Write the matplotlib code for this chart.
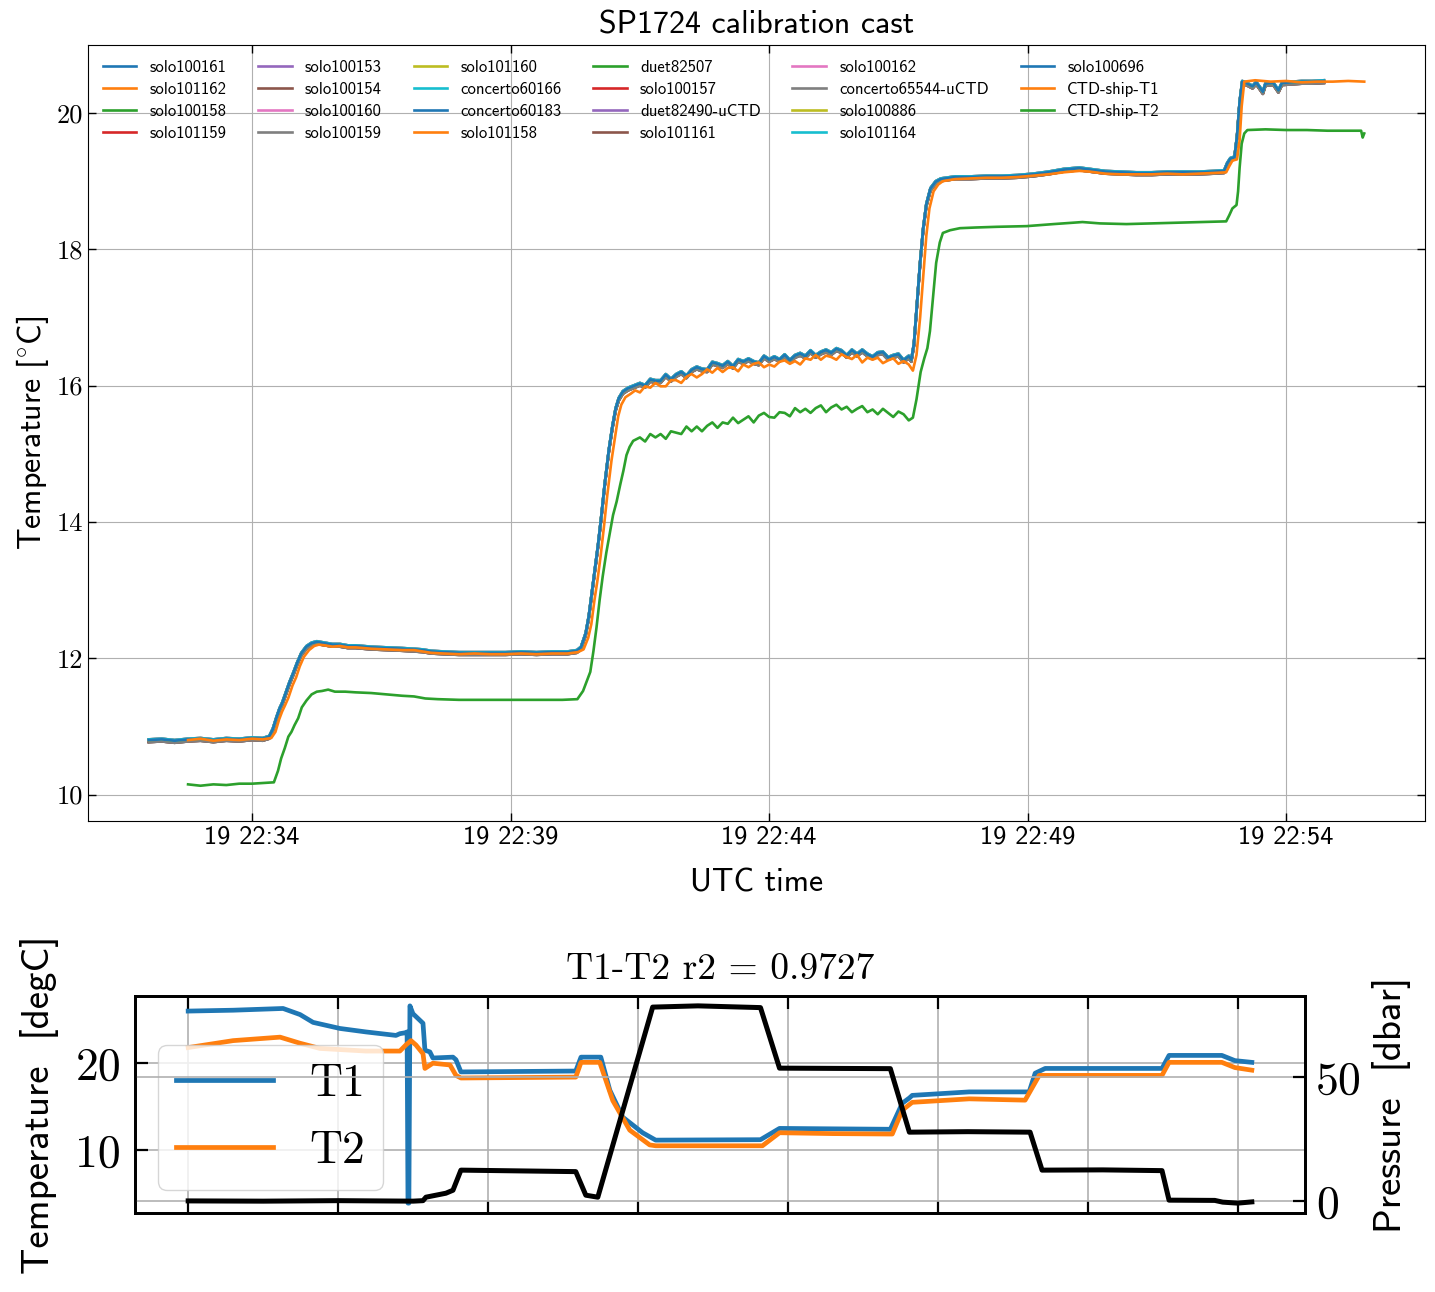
import matplotlib
matplotlib.use("Agg")
import matplotlib.pyplot as plt
import matplotlib.dates as mdates
from matplotlib.ticker import MultipleLocator
import numpy as np
import pandas as pd

plt.rcParams["mathtext.fontset"] = "cm"

SANS = "cmss10"
SERIF = "cmr10"

# ---------------- calibration cast: time in minutes after 22:30 UTC ----------------
cast_start = "2017-06-19 22:30:00"

# shared profile seen by the solo / concerto / duet loggers
solo_t = [2.00, 2.25, 2.50, 2.76, 3.00, 3.25, 3.50, 3.75, 4.00, 4.20, 4.33, 4.40, 4.47, 4.53,
          4.58, 4.65, 4.72, 4.80, 4.87, 4.95, 5.05, 5.15, 5.25, 5.40, 5.55, 5.70, 5.85, 6.00,
          6.30, 6.60, 6.90, 7.13, 7.30, 7.46, 7.70, 8.00, 8.30, 8.60, 8.90, 9.20, 9.50, 9.80,
          10.10, 10.28, 10.36, 10.45, 10.51, 10.57, 10.63, 10.69, 10.75, 10.82, 10.90, 10.97,
          11.03, 11.09, 11.17, 11.27, 11.40,
          11.5, 11.6, 11.7, 11.8, 11.9, 12.0, 12.1, 12.2, 12.3, 12.4, 12.5, 12.6, 12.7, 12.8,
          12.9, 13.0, 13.1, 13.2, 13.3, 13.4, 13.5, 13.6, 13.7, 13.8, 13.9, 14.0, 14.1, 14.2,
          14.3, 14.4, 14.5, 14.6, 14.7, 14.8, 14.9, 15.0, 15.1, 15.2, 15.3, 15.4, 15.5, 15.6,
          15.7, 15.8, 15.9, 16.0, 16.1, 16.2, 16.3, 16.4, 16.5, 16.6, 16.7, 16.75,
          16.80, 16.86, 16.92, 16.98, 17.04, 17.12, 17.22, 17.32, 17.6, 17.9, 18.2, 18.5, 18.8,
          19.1, 19.4, 19.7, 20.0, 20.2, 20.5, 20.8, 21.1, 21.4, 21.7, 22.0, 22.3, 22.6, 22.80,
          22.86, 22.92, 23.00, 23.05, 23.10, 23.15, 23.25, 23.35, 23.42, 23.55, 23.60, 23.75,
          23.85, 23.92, 24.1, 24.3, 24.5, 24.73]
solo_temp = [10.79, 10.80, 10.78, 10.80, 10.81, 10.79, 10.81, 10.80, 10.82, 10.81, 10.84, 10.95,
             11.12, 11.25, 11.33, 11.48, 11.63, 11.78, 11.92, 12.06, 12.16, 12.21, 12.23, 12.21,
             12.19, 12.19, 12.17, 12.17, 12.15, 12.14, 12.13, 12.12, 12.11, 12.09, 12.08, 12.07,
             12.07, 12.07, 12.07, 12.08, 12.07, 12.08, 12.08, 12.10, 12.15, 12.35, 12.60, 12.95,
             13.30, 13.65, 14.05, 14.55, 15.05, 15.40, 15.65, 15.80, 15.90, 15.95, 15.99,
             16.02, 15.99, 16.08, 16.06, 16.06, 16.15, 16.08, 16.15, 16.19, 16.13, 16.22, 16.26,
             16.23, 16.22, 16.33, 16.31, 16.28, 16.34, 16.27, 16.37, 16.34, 16.38, 16.34, 16.32,
             16.42, 16.37, 16.41, 16.37, 16.44, 16.36, 16.43, 16.46, 16.42, 16.50, 16.43, 16.48,
             16.51, 16.47, 16.53, 16.50, 16.43, 16.51, 16.45, 16.51, 16.45, 16.41, 16.47, 16.48,
             16.40, 16.43, 16.45, 16.36, 16.42, 16.37,
             16.60, 17.20, 17.80, 18.30, 18.65, 18.88, 18.98, 19.02, 19.05, 19.05, 19.06, 19.06,
             19.07, 19.09, 19.12, 19.16, 19.18, 19.16, 19.13, 19.12, 19.11, 19.11, 19.12, 19.12,
             19.12, 19.13, 19.14, 19.25, 19.32, 19.34, 19.65, 20.15, 20.45, 20.42, 20.38, 20.44,
             20.30, 20.42, 20.43, 20.32, 20.43, 20.44, 20.45, 20.45, 20.46]

# logger names and their bias against the shared profile (degC)
logger_names = ["solo100161", "solo101162", "solo100158", "solo101159", "solo100153",
                "solo100154", "solo100160", "solo100159", "solo101160", "concerto60166",
                "concerto60183", "solo101158", "duet82507", "solo100157", "duet82490-uCTD",
                "solo101161", "solo100162", "concerto65544-uCTD", "solo100886", "solo101164",
                "solo100696"]
logger_bias = [0.00, -0.01, 0.01, -0.01, 0.02, -0.02, 0.01, -0.02, 0.02, 0.01,
               0.00, -0.01, 0.01, -0.01, 0.02, -0.02, 0.01, -0.02, 0.01, 0.02, 0.01]

# ship CTD primary sensor
ctd_t1_t = [2.76, 3.0, 3.25, 3.5, 3.75, 4.0, 4.2, 4.37, 4.45, 4.52, 4.58, 4.63, 4.70, 4.78,
            4.85, 4.92, 5.00, 5.10, 5.20, 5.29, 5.40, 5.55, 5.70, 5.85, 6.0, 6.3, 6.6, 6.9,
            7.13, 7.3, 7.46, 7.7, 8.0, 8.3, 8.6, 8.9, 9.2, 9.5, 9.8, 10.1, 10.3, 10.41, 10.50,
            10.56, 10.62, 10.68, 10.74, 10.80, 10.87, 10.95, 11.02, 11.08, 11.14, 11.22, 11.32,
            11.41,
            11.5, 11.6, 11.7, 11.8, 11.9, 12.0, 12.1, 12.2, 12.3, 12.4, 12.5, 12.6, 12.7, 12.8,
            12.9, 13.0, 13.1, 13.2, 13.3, 13.4, 13.5, 13.6, 13.7, 13.8, 13.9, 14.0, 14.1, 14.2,
            14.3, 14.4, 14.5, 14.6, 14.7, 14.8, 14.9, 15.0, 15.1, 15.2, 15.3, 15.4, 15.5, 15.6,
            15.7, 15.8, 15.9, 16.0, 16.1, 16.2, 16.3, 16.4, 16.5, 16.6, 16.7, 16.78,
            16.85, 16.92, 16.98, 17.04, 17.10, 17.18, 17.27, 17.36, 17.6, 17.9, 18.2, 18.5, 18.8,
            19.1, 19.4, 19.7, 20.0, 20.2, 20.5, 20.8, 21.1, 21.4, 21.7, 22.0, 22.3, 22.6, 22.84,
            22.90, 22.96, 23.05, 23.10, 23.14, 23.19, 23.4, 23.7, 24.0, 24.3, 24.6, 24.9, 25.2,
            25.51]
ctd_t1 = [10.80, 10.82, 10.79, 10.81, 10.80, 10.82, 10.81, 10.83, 10.92, 11.10, 11.22, 11.30,
          11.42, 11.60, 11.72, 11.88, 12.02, 12.12, 12.18, 12.20, 12.19, 12.17, 12.18, 12.16,
          12.16, 12.14, 12.13, 12.12, 12.12, 12.10, 12.08, 12.07, 12.06, 12.07, 12.06, 12.06,
          12.07, 12.06, 12.07, 12.07, 12.09, 12.13, 12.30, 12.50, 12.85, 13.15, 13.50, 13.90,
          14.40, 14.90, 15.25, 15.55, 15.72, 15.83, 15.88, 15.93,
          15.90, 15.99, 15.97, 16.04, 15.99, 15.99, 16.08, 16.08, 16.04, 16.13, 16.17, 16.12,
          16.17, 16.24, 16.19, 16.26, 16.20, 16.26, 16.27, 16.21, 16.31, 16.27, 16.32, 16.34,
          16.27, 16.31, 16.28, 16.35, 16.37, 16.32, 16.36, 16.31, 16.40, 16.38, 16.45, 16.38,
          16.44, 16.42, 16.38, 16.46, 16.42, 16.39, 16.45, 16.34, 16.41, 16.38, 16.41, 16.33,
          16.37, 16.40, 16.32, 16.36, 16.31, 16.22,
          16.45, 17.00, 17.60, 18.20, 18.60, 18.85, 18.95, 19.00, 19.03, 19.04, 19.05, 19.05,
          19.06, 19.08, 19.10, 19.13, 19.15, 19.14, 19.11, 19.10, 19.10, 19.10, 19.11, 19.10,
          19.11, 19.12, 19.13, 19.22, 19.30, 19.32, 19.60, 20.10, 20.46, 20.48, 20.46, 20.47,
          20.45, 20.46, 20.46, 20.47, 20.46]

# ship CTD secondary sensor
ctd_t2_t = [2.76, 3.00, 3.25, 3.50, 3.75, 4.00, 4.20, 4.42, 4.50, 4.56, 4.63, 4.70, 4.76, 4.82,
            4.89, 4.96, 5.05, 5.15, 5.25, 5.35, 5.47, 5.60, 5.80, 6.00, 6.30, 6.60, 6.90, 7.13,
            7.35, 7.59, 8.00, 8.40, 8.80, 9.20, 9.60, 10.00, 10.29, 10.40, 10.47, 10.54, 10.60,
            10.66, 10.72, 10.78, 10.85, 10.92, 10.98, 11.05, 11.12, 11.18, 11.24, 11.30, 11.37,
            11.5, 11.6, 11.7, 11.8, 11.9, 12.0, 12.1, 12.2, 12.3, 12.4, 12.5, 12.6, 12.7, 12.8,
            12.9, 13.0, 13.1, 13.2, 13.3, 13.4, 13.5, 13.6, 13.7, 13.8, 13.9, 14.0, 14.1, 14.2,
            14.3, 14.4, 14.5, 14.6, 14.7, 14.8, 14.9, 15.0, 15.1, 15.2, 15.3, 15.4, 15.5, 15.6,
            15.7, 15.8, 15.9, 16.0, 16.1, 16.2, 16.3, 16.4, 16.5, 16.6, 16.7, 16.78,
            16.85, 16.93, 17.00, 17.06, 17.11, 17.17, 17.23, 17.30, 17.36, 17.50, 17.69, 18.0,
            18.4, 18.98, 19.5, 20.06, 20.4, 20.91, 21.4, 21.9, 22.4, 22.84, 22.90, 22.96, 23.04,
            23.07, 23.10, 23.14, 23.19, 23.25, 23.6, 24.0, 24.4, 24.8, 25.2, 25.45, 25.48, 25.51]
ctd_t2 = [10.15, 10.13, 10.15, 10.14, 10.16, 10.16, 10.17, 10.18, 10.35, 10.53, 10.68, 10.85,
          10.92, 11.02, 11.12, 11.28, 11.38, 11.47, 11.51, 11.52, 11.54, 11.51, 11.51, 11.50,
          11.49, 11.47, 11.45, 11.44, 11.41, 11.40, 11.39, 11.39, 11.39, 11.39, 11.39, 11.39,
          11.40, 11.52, 11.66, 11.80, 12.10, 12.45, 12.85, 13.20, 13.55, 13.85, 14.10, 14.30,
          14.55, 14.75, 14.98, 15.10, 15.19,
          15.24, 15.18, 15.29, 15.24, 15.29, 15.22, 15.33, 15.31, 15.29, 15.40, 15.33, 15.40,
          15.33, 15.41, 15.46, 15.38, 15.46, 15.44, 15.53, 15.45, 15.50, 15.55, 15.46, 15.56,
          15.60, 15.54, 15.53, 15.61, 15.60, 15.55, 15.67, 15.61, 15.66, 15.60, 15.67, 15.71,
          15.61, 15.68, 15.72, 15.65, 15.69, 15.61, 15.66, 15.70, 15.61, 15.65, 15.58, 15.66,
          15.60, 15.54, 15.62, 15.58, 15.49, 15.53,
          15.80, 16.20, 16.40, 16.55, 16.80, 17.30, 17.80, 18.10, 18.24, 18.28, 18.31, 18.32,
          18.33, 18.34, 18.37, 18.40, 18.38, 18.37, 18.38, 18.39, 18.40, 18.41, 18.50, 18.60,
          18.65, 18.85, 19.20, 19.55, 19.70, 19.75, 19.76, 19.75, 19.75, 19.74, 19.74, 19.74,
          19.64, 19.70]

# ---------------- CTD profile vs sample number ----------------
t1_idx = [0, 300, 633, 746, 833, 1012, 1186, 1386, 1412, 1446, 1460, 1466, 1472, 1479, 1499,
          1566, 1579, 1612, 1632, 1766, 1786, 1819, 2585, 2620, 2752, 2812, 2898, 3031, 3118,
          3817, 3944, 4300, 4683, 4763, 4810, 4829, 5209, 5609, 5649, 5716, 6495, 6542, 6894,
          6981, 7094]
t1_prof = [26.0, 26.1, 26.3, 25.6, 24.7, 24.0, 23.6, 23.2, 23.4, 23.5, 23.6, 3.9, 3.9, 26.6,
           25.7, 24.6, 21.5, 21.3, 20.6, 20.7, 20.4, 19.0, 19.1, 20.7, 20.7, 16.9, 13.8, 12.0,
           11.15, 11.2, 12.5, 12.45, 12.4, 15.4, 16.0, 16.3, 16.7, 16.7, 18.85, 19.4, 19.4,
           20.9, 20.9, 20.3, 20.1]

t2_idx = [0, 300, 613, 746, 879, 1186, 1412, 1452, 1486, 1519, 1566, 1579, 1632, 1746, 1786,
          1819, 2585, 2620, 2745, 2832, 2945, 3078, 3118, 3830, 3944, 4300, 4696, 4763, 4829,
          5209, 5582, 5676, 6495, 6542, 6894, 6981, 7094]
t2_prof = [21.8, 22.6, 23.0, 22.3, 21.7, 21.4, 21.4, 22.1, 22.6, 22.1, 21.1, 19.4, 20.0, 19.8,
           18.6, 18.3, 18.4, 20.1, 20.1, 15.7, 12.3, 10.6, 10.5, 10.5, 12.0, 11.9, 11.85, 14.6,
           15.5, 15.9, 15.75, 18.6, 18.6, 20.1, 20.1, 19.5, 19.2]

p_idx = [0, 500, 1000, 1500, 1566, 1586, 1719, 1766, 1819, 2200, 2585, 2652, 2732, 3098, 3400,
         3817, 3944, 4300, 4683, 4810, 5200, 5615, 5695, 6100, 6495, 6542, 6847, 6900, 7000,
         7094]
p_prof = [0.1, 0.0, 0.2, 0.0, 0.2, 1.6, 3.2, 4.4, 12.5, 12.2, 11.9, 2.4, 1.6, 78.2, 78.7,
          78.0, 53.6, 53.5, 53.4, 27.8, 28.0, 27.8, 12.5, 12.6, 12.3, 0.4, 0.3, -0.4, -0.8,
          -0.3]
r2_value = 0.9727

# ---------------- figure ----------------
fig = plt.figure(figsize=(14.35, 12.92), dpi=100)
W, H = 1435, 1292
ax = fig.add_axes([88 / W, 1 - 821 / H, (1425 - 88) / W, (821 - 45) / H])

base = pd.Timestamp(cast_start)


def to_time(minutes):
    return base + pd.to_timedelta(np.asarray(minutes), unit="min")


colors = plt.rcParams["axes.prop_cycle"].by_key()["color"]
solo_time = to_time(solo_t)
for i, (name, bias) in enumerate(zip(logger_names, logger_bias)):
    ax.plot(solo_time, np.asarray(solo_temp) + bias, color=colors[i % 10], lw=1.9, label=name)
ax.plot(to_time(ctd_t1_t), ctd_t1, color=colors[21 % 10], lw=1.9, label="CTD-ship-T1")
ax.plot(to_time(ctd_t2_t), ctd_t2, color=colors[22 % 10], lw=1.9, label="CTD-ship-T2")

ax.xaxis.set_major_locator(mdates.MinuteLocator(byminute=range(4, 60, 5)))
ax.xaxis.set_major_formatter(mdates.DateFormatter("%d %H:%M"))
ax.yaxis.set_major_locator(MultipleLocator(2))
ax.grid(True, color="#b0b0b0", lw=0.8)
ax.tick_params(direction="in", top=True, right=True, length=6, width=1)
for lab in ax.get_xticklabels():
    lab.set_fontfamily(SANS)
    lab.set_fontsize(19)
for lab in ax.get_yticklabels():
    lab.set_fontfamily(SERIF)
    lab.set_fontsize(19)
ax.set_title("SP1724 calibration cast", fontfamily=SANS, fontsize=23, pad=8)
ax.set_xlabel("UTC time", fontfamily=SANS, fontsize=23, labelpad=14)
ax.set_ylabel(r"Temperature [$^{\circ}$C]", fontfamily=SANS, fontsize=23)
ax.legend(ncol=6, loc="upper left", frameon=False, prop={"family": SANS, "size": 12},
          labelspacing=0.42, columnspacing=1.9)

# ---------------- lower panel ----------------
axb = fig.add_axes([135 / W, 1 - 1213 / H, (1305 - 135) / W, (1213 - 996) / H])
axb.plot(t1_idx, t1_prof, color=colors[0], lw=3.4, label="T1")
axb.plot(t2_idx, t2_prof, color=colors[1], lw=3.4, label="T2")
axp = axb.twinx()
axp.plot(p_idx, p_prof, color="black", lw=3.6)

axb.xaxis.set_major_locator(MultipleLocator(1000))
axb.yaxis.set_major_locator(MultipleLocator(10))
axp.yaxis.set_major_locator(MultipleLocator(50))
axb.grid(True, color="#b0b0b0", lw=1.2)
axp.grid(True, color="#b0b0b0", lw=1.2)
axb.tick_params(direction="in", top=True, bottom=True, labelbottom=False, length=9, width=1.6)
axb.tick_params(axis="y", direction="in", left=True, right=False, length=9, width=1.6, pad=10)
axp.tick_params(direction="in", length=9, width=1.6, pad=8)
for a in (axb, axp):
    for s in a.spines.values():
        s.set_linewidth(2.0)
    for lab in a.get_yticklabels():
        lab.set_fontfamily(SERIF)
        lab.set_fontsize(33)
axb.set_title(f"T1-T2 r2 = {r2_value:.4f}", fontfamily=SERIF, fontsize=27, pad=12)
axb.set_ylabel("Temperature  [degC]", fontfamily=SANS, fontsize=28, labelpad=12)
axp.set_ylabel("Pressure  [dbar]", fontfamily=SANS, fontsize=28, labelpad=7)
axb.legend(loc="lower left", prop={"family": SERIF, "size": 33}, labelspacing=0.55,
           handlelength=2.1)

fig.savefig("out.png", dpi=100)
